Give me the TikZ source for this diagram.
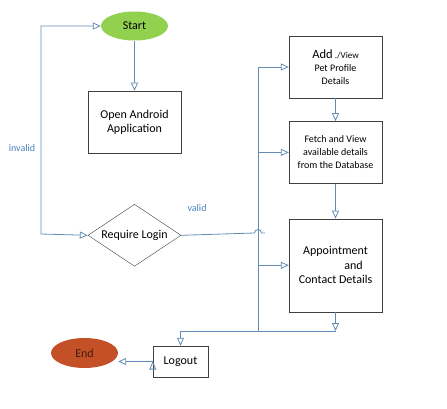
\documentclass[tikz,border=0pt]{standalone}
\usepackage{fontspec}
\setmainfont{Carlito}
\usetikzlibrary{arrows.meta,positioning,shapes.geometric}
\definecolor{flow}{RGB}{98,140,182}
\definecolor{lblblue}{RGB}{72,130,190}
\definecolor{startgreen}{RGB}{146,208,80}
\definecolor{endred}{RGB}{196,80,40}
\definecolor{endtext}{RGB}{60,28,12}

\begin{document}
\begin{tikzpicture}[x=1pt,y=-1pt,>={Triangle[open,length=8pt,width=7pt]},
  box/.style={draw=black!75,rectangle,minimum width=93pt,minimum height=62pt,
    align=center,inner sep=2pt,font=\fontsize{12}{14}\selectfont},
  term/.style={ellipse,minimum width=67pt,minimum height=29pt,inner sep=0pt,
    font=\fontsize{12}{14}\selectfont},
  decision/.style={diamond,draw=black!75,shape aspect=1.5,minimum width=93pt,
    minimum height=62pt,inner sep=0pt,font=\fontsize{12}{14}\selectfont},
  line/.style={draw=flow,line width=0.8pt},
  lbl/.style={text=lblblue,font=\fontsize{10}{12}\selectfont}]
  \useasboundingbox (0,0) rectangle (447,409);

  			\node[term,fill=startgreen] (start) at (134.5,26) {Start};
  			\node[box]               (open) [below=50pt of start] {Open Android\\Application};
            \node[decision]          (login) [below=51pt of open] {Require Login};
            \node[box,font=\fontsize{10}{13}\selectfont] (add) at (335.5,67)
                {{\fontsize{12.5}{14}\selectfont Add} {\fontsize{9}{11}\selectfont ./View}\\Pet Profile\\Details};
            \node[box,font=\fontsize{10}{13}\selectfont] (fetch) [below=23pt of add]
                {Fetch and View\\available details\\from the Database};
            \node[box,minimum height=93pt,font=\fontsize{12}{14.5}\selectfont] (appt) [below=35pt of fetch]
                {Appointment\\\hspace*{36pt}and\\Contact Details};
            \node[box,minimum width=55pt,minimum height=31pt] (logout) at (180.5,361.5) {Logout};
            \node[term,fill=endred,minimum height=30pt,text=endtext] (finish) at (84.5,353) {End};

            \node[lbl] (invalid) at (22,148) {invalid};
            \node[lbl] (valid) at (197,208) {valid};

            \coordinate (lp) at (41,234);
            \coordinate (hop) at (254.5,233);
            \coordinate (vend) at (265,233);
            \coordinate (bustop) at (258,67);
            \coordinate (busbot) at (258,331);

  			\path[->,line]
                     (start) edge (open)
                     (add) edge (fetch)
                     (fetch) edge (appt)
                     (bustop) edge (add)
                     (bustop |- fetch) edge (fetch)
                     (bustop |- appt) edge (appt)
                     (logout.west) edge (logout.west -| finish.east);

            \draw[<->,line] (start.west) -| (lp) -- (login.west);
            \draw[line] (login.east) -- (hop) arc[start angle=180,end angle=0,radius=3.5pt] -- (vend);
            \draw[line] (bustop) -- (busbot);
            \draw[->,line] (appt) -- (appt |- busbot);
            \draw[->,line] (appt |- busbot) -| (logout);
		\end{tikzpicture}
\end{document}
